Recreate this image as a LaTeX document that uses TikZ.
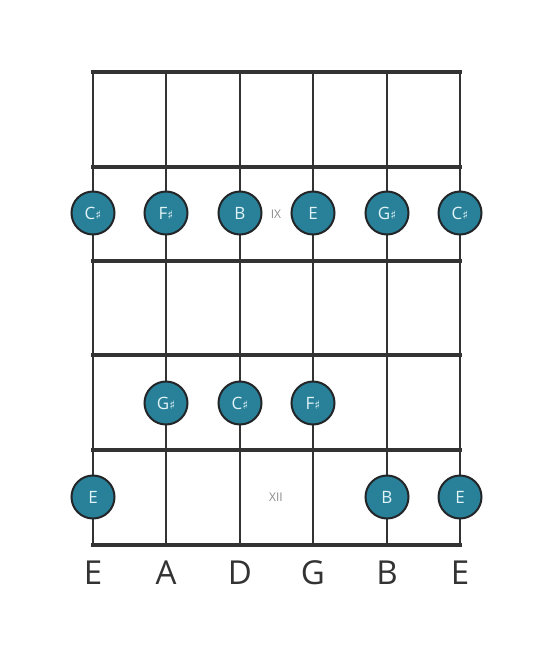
\documentclass[tikz,border=0pt]{standalone}
\usepackage{fontspec}
\setmainfont{Open Sans}
\newfontfamily\symfont{DejaVu Sans}
\definecolor{notefill}{RGB}{41,128,153}
\definecolor{noteline}{RGB}{34,38,40}
\definecolor{gridline}{RGB}{51,51,51}
\definecolor{notetext}{RGB}{225,244,248}
\definecolor{marktext}{RGB}{140,140,140}
\newcommand{\shp}{{\symfont\fontsize{12}{12}\selectfont ♯}}
\begin{document}
\begin{tikzpicture}[x=1pt,y=-1pt,
  stringline/.style={draw=gridline,line width=2.6pt},
  fretline/.style={draw=gridline,line width=4.6pt},
  note/.style={circle,fill=notefill,draw=noteline,line width=2pt,minimum size=43pt,inner sep=0pt,
    text=notetext,font=\fontsize{17}{17}\selectfont},
  fretmark/.style={text=marktext,font=\fontsize{12}{12}\selectfont},
  stringname/.style={text=gridline,font=\fontsize{33}{33}\selectfont}]
\useasboundingbox (0,0) rectangle (553,656);
\fill[white] (0,0) rectangle (553,656);
% strings
\foreach \x [count=\i] in {93,166,240,313,387,460}{
  \coordinate (st\i) at (\x,72);
  \coordinate (sb\i) at (\x,545);
  \draw[stringline] (st\i) -- (sb\i);
}
% frets
\foreach \y [count=\j] in {72,167,261,355,450,545}{
  \coordinate (fl\j) at (91,\y);
  \coordinate (fr\j) at (462,\y);
  \draw[fretline] (fl\j) -- (fr\j);
}
% fret markers
\node[fretmark] (m9) at (276,214) {IX};
\node[fretmark] (m12) at (276,497) {XII};
% notes
\node[note] (n1) at (93,213) {C\shp};
\node[note] (n2) at (166,213) {F\shp};
\node[note] (n3) at (240,213) {B};
\node[note] (n4) at (313,213) {E};
\node[note] (n5) at (387,213) {G\shp};
\node[note] (n6) at (460,213) {C\shp};
\node[note] (n7) at (166,403) {G\shp};
\node[note] (n8) at (240,403) {C\shp};
\node[note] (n9) at (313,403) {F\shp};
\node[note] (n10) at (93,497) {E};
\node[note] (n11) at (387,497) {B};
\node[note] (n12) at (460,497) {E};
% string names
\node[stringname] (s1) at (93,573) {E};
\node[stringname] (s2) at (166,573) {A};
\node[stringname] (s3) at (240,573) {D};
\node[stringname] (s4) at (313,573) {G};
\node[stringname] (s5) at (387,573) {B};
\node[stringname] (s6) at (460,573) {E};
\end{tikzpicture}
\end{document}
